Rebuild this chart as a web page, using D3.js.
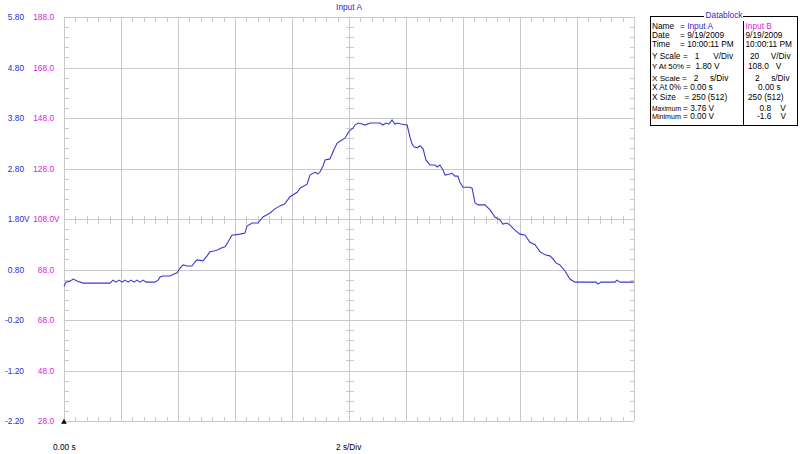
<!DOCTYPE html>
<html><head><meta charset="utf-8">
<script src="https://d3js.org/d3.v7.min.js"></script>
<style>
html,body{margin:0;padding:0;background:#fff;}
svg{display:block;font-family:"Liberation Sans",Arial,sans-serif;}
text{white-space:pre;}
</style>
</head><body>
<svg id="c" width="800" height="454"></svg>
<script>
// ---- data ----
const timeS = [0.00,0.07,0.21,0.32,0.46,0.67,0.91,1.26,1.61,1.72,1.82,1.93,2.04,2.14,2.25,2.35,2.46,2.56,2.67,2.77,2.88,3.02,3.19,3.30,3.37,3.47,3.72,3.86,3.96,4.07,4.18,4.32,4.49,4.60,4.67,4.88,5.02,5.12,5.30,5.40,5.54,5.65,5.75,5.89,6.18,6.35,6.42,6.60,6.81,6.98,7.23,7.40,7.58,7.75,7.93,8.18,8.28,8.53,8.63,8.81,8.91,8.98,9.09,9.16,9.33,9.47,9.58,9.68,9.86,9.96,10.04,10.14,10.21,10.32,10.46,10.56,10.74,10.91,11.09,11.19,11.30,11.40,11.51,11.61,11.72,11.82,12.04,12.14,12.21,12.28,12.39,12.49,12.60,12.70,12.84,13.02,13.09,13.19,13.30,13.37,13.54,13.61,13.72,13.82,13.89,14.00,14.25,14.32,14.42,14.53,14.77,14.95,15.12,15.30,15.40,15.54,15.65,15.82,16.00,16.18,16.35,16.53,16.70,16.88,17.05,17.16,17.26,17.40,17.58,17.75,17.93,18.46,18.67,18.74,18.84,19.33,19.40,19.51,20.00];
const inputA = [0.47,0.55,0.57,0.61,0.57,0.53,0.53,0.53,0.53,0.59,0.55,0.59,0.55,0.59,0.55,0.59,0.55,0.59,0.55,0.59,0.55,0.55,0.55,0.59,0.65,0.67,0.67,0.71,0.73,0.83,0.89,0.87,0.87,0.95,0.99,0.97,1.07,1.15,1.17,1.19,1.23,1.25,1.34,1.48,1.50,1.52,1.66,1.72,1.72,1.84,1.92,2.00,2.06,2.10,2.24,2.33,2.41,2.49,2.67,2.73,2.69,2.73,2.85,2.97,2.99,3.17,3.30,3.34,3.40,3.50,3.56,3.60,3.66,3.70,3.68,3.66,3.70,3.70,3.70,3.66,3.70,3.68,3.76,3.68,3.70,3.68,3.66,3.42,3.29,3.23,3.21,3.25,3.19,2.97,2.87,2.87,2.83,2.87,2.77,2.67,2.69,2.71,2.65,2.65,2.53,2.43,2.43,2.41,2.12,2.08,2.08,1.98,1.84,1.78,1.70,1.72,1.68,1.58,1.50,1.48,1.34,1.29,1.15,1.09,1.07,1.01,0.93,0.89,0.77,0.61,0.55,0.55,0.55,0.51,0.55,0.55,0.59,0.55,0.55];

const yTicksA = [5.80,4.80,3.80,2.80,1.80,0.80,-0.20,-1.20,-2.20];
const yTicksB = [188.0,168.0,148.0,128.0,108.0,88.0,68.0,48.0,28.0];
const xTicks = [0,2,4,6,8,10,12,14,16,18,20];
const title = "Input A";
const xLeftLabel = "0.00 s";
const xMidLabel = "2 s/Div";

const dbTitle = "Datablock";
const dbLabels = ["Name","Date","Time","Y Scale","Y At 50%","X Scale","X At 0%","X Size","Maximum","Minimum"];
const dbValuesA = ["= Input A","= 9/19/2009","= 10:00:11 PM","=   1      V/Div","=  1.80 V","=   2     s/Div","= 0.00 s","= 250 (512)","= 3.76 V","= 0.00 V"];
const dbValuesB = ["Input B","9/19/2009","10:00:11 PM","20     V/Div","108.0   V","2     s/Div","0.00 s","250 (512)","0.8    V","-1.6    V"];

// ---- layout ----
const L=64,R=634,T=17,B=421;
const blue="#2a2ad0", pink="#dd22dd", lineCol="#3b3bc8", grid="#c9c9c9";
const svg=d3.select("#c");
const x=d3.scaleLinear().domain([0,20]).range([L,R]);
const y=d3.scaleLinear().domain([-2.2,5.8]).range([B,T]);
const yB=d3.scaleLinear().domain([28,188]).range([B,T]);

const g=svg.append("g").attr("shape-rendering","crispEdges");
g.selectAll(".vg").data(xTicks).join("line")
 .attr("x1",d=>Math.round(x(d))+0.5).attr("x2",d=>Math.round(x(d))+0.5)
 .attr("y1",T).attr("y2",B).attr("stroke",grid);
g.selectAll(".hg").data(yTicksA).join("line")
 .attr("y1",d=>Math.round(y(d))+0.5).attr("y2",d=>Math.round(y(d))+0.5)
 .attr("x1",L).attr("x2",R).attr("stroke",grid);
const xMinor=d3.range(0,20.0001,0.4).filter(v=>Math.abs(v/2-Math.round(v/2))>1e-6);
const yMinor=d3.range(-2.2,5.8001,0.2).filter(v=>Math.abs((v+2.2)-Math.round(v+2.2))>1e-6);
function vt(vals,y0,y1){g.selectAll(null).data(vals).join("line")
 .attr("x1",d=>Math.round(x(d))+0.5).attr("x2",d=>Math.round(x(d))+0.5)
 .attr("y1",y0).attr("y2",y1).attr("stroke",grid);}
function ht(vals,x0,x1){g.selectAll(null).data(vals).join("line")
 .attr("y1",d=>Math.round(y(d))+0.5).attr("y2",d=>Math.round(y(d))+0.5)
 .attr("x1",x0).attr("x2",x1).attr("stroke",grid);}
const yc=Math.round(y(1.8))+0.5, xc=Math.round(x(10))+0.5;
vt(xMinor,T,T+5); vt(xMinor,B-4,B+0.5); vt(xMinor,yc-4,yc+4);
ht(yMinor,L,L+5); ht(yMinor,R-4,R+0.5); ht(yMinor,xc-4,xc+4);

svg.append("path").datum(timeS.map((t,i)=>[t,inputA[i]]))
 .attr("d",d3.line().x(d=>x(d[0])).y(d=>y(d[1])))
 .attr("fill","none").attr("stroke",lineCol).attr("stroke-width",1.1);

const fs=8.3;
svg.selectAll(".la").data(yTicksA).join("text")
 .attr("x",24).attr("y",d=>y(d)+3).attr("text-anchor","end")
 .attr("font-size",fs).attr("fill",blue).text(d=>d.toFixed(2));
svg.selectAll(".lb").data(yTicksB).join("text")
 .attr("x",54).attr("y",d=>yB(d)+3).attr("text-anchor","end")
 .attr("font-size",fs).attr("fill",pink).text(d=>d.toFixed(1));
svg.append("text").attr("x",24).attr("y",y(1.8)+3).attr("font-size",fs).attr("fill",blue).text("V");
svg.append("text").attr("x",54).attr("y",y(1.8)+3).attr("font-size",fs).attr("fill",pink).text("V");
svg.append("text").attr("x",x(10)).attr("y",10).attr("text-anchor","middle").attr("font-size",fs).attr("fill",blue).text(title);
svg.append("text").attr("x",53).attr("y",450).attr("font-size",fs).attr("fill","#000").text(xLeftLabel);
svg.append("text").attr("x",336).attr("y",450).attr("font-size",fs).attr("fill","#000").text(xMidLabel);
svg.append("path").attr("d",d3.symbol().type(d3.symbolTriangle).size(14)()).attr("transform",`translate(${L},${B+1})`).attr("fill","#000");

// datablock
const bx0=650.5,bx1=797.5,by0=16.5,by1=125.5,div=743.5;
svg.append("rect").attr("x",bx0).attr("y",by0).attr("width",bx1-bx0).attr("height",by1-by0).attr("fill","#fff").attr("stroke","#000").attr("shape-rendering","crispEdges");
svg.append("rect").attr("x",704).attr("y",12).attr("width",39).attr("height",8).attr("fill","#fff");
svg.append("text").attr("x",724).attr("y",18).attr("text-anchor","middle").attr("font-size",fs).attr("fill",blue).text(dbTitle);
svg.append("line").attr("x1",div).attr("x2",div).attr("y1",21).attr("y2",by1).attr("stroke","#000").attr("shape-rendering","crispEdges");
const rowY=[29,38,46.5,58.5,68.5,81,90,99.5,110.5,119];
const aX=[680,680,680,683,686,682,683,684.5,683,683];
const bX=[745.5,745.5,745.5,750,748,755,758,748,759.5,757];
dbLabels.forEach((lab,i)=>{
  const lt=svg.append("text").attr("x",652).attr("y",rowY[i]).attr("font-size",fs).attr("fill","#000").text(lab);
  const avail=aX[i]-2-652;
  const w=lt.node().getComputedTextLength();
  if(w>avail) lt.attr("font-size",fs*avail/w);
  const ta=svg.append("text").attr("x",aX[i]).attr("y",rowY[i]).attr("font-size",fs).attr("fill","#000");
  if(i===0){ta.append("tspan").text("= ");ta.append("tspan").attr("fill",blue).text(dbValuesA[i].slice(2));}
  else ta.text(dbValuesA[i]);
  svg.append("text").attr("x",bX[i]).attr("y",rowY[i]).attr("font-size",fs).attr("fill",i===0?pink:"#000").text(dbValuesB[i]);
});
</script>
</body></html>
